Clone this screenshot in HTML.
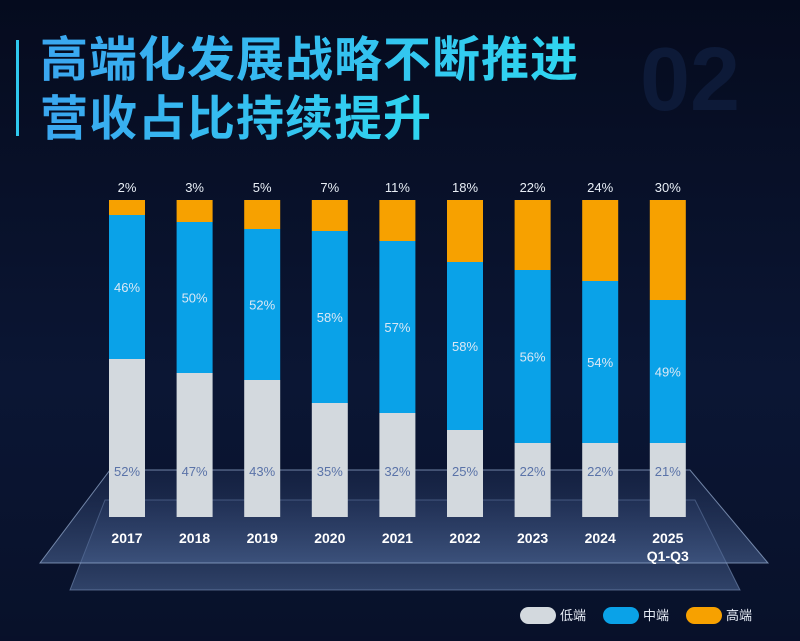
<!DOCTYPE html>
<html><head><meta charset="utf-8"><style>
body{margin:0;width:800px;height:636px;overflow:hidden;background:#08102a;font-family:"Liberation Sans","Noto Sans CJK SC",sans-serif;}
</style></head><body>
<svg width="800" height="636" viewBox="0 0 800 636" xmlns="http://www.w3.org/2000/svg">
<defs>
<linearGradient id="bg" x1="0" y1="0" x2="0" y2="1"><stop offset="0" stop-color="#050b1e"/><stop offset="0.6" stop-color="#0b1634"/><stop offset="1" stop-color="#08112a"/></linearGradient>
<linearGradient id="tg" x1="0" y1="0" x2="1" y2="0"><stop offset="0" stop-color="#3aa6f0"/><stop offset="1" stop-color="#2fd6f0"/></linearGradient>
<linearGradient id="pl" x1="0" y1="0" x2="0" y2="1"><stop offset="0" stop-color="#2a3c66" stop-opacity="0.3"/><stop offset="1" stop-color="#4a6391" stop-opacity="0.6"/></linearGradient>
</defs>
<rect width="800" height="636" fill="url(#bg)"/>
<text x="640" y="110" font-size="90" fill="#0d1a38" font-family="Liberation Sans" font-weight="bold">02</text>
<rect x="16" y="40" width="3" height="96" fill="#2fc8ee"/>
<g font-size="48" font-weight="bold" fill="url(#tg)" letter-spacing="1">
<text x="40" y="76">高端化发展战略不断推进</text>
<text x="40" y="135">营收占比持续提升</text>
</g>
<polygon points="105,500 695,500 740,590 70,590" fill="url(#pl)" stroke="#7c93bb" stroke-opacity="0.6"/>
<polygon points="110,470 690,470 768,563 40,563" fill="url(#pl)" stroke="#9ab0d4" stroke-opacity="0.7"/>
<g id="bars" font-size="13"></g>
<g font-size="13" fill="#e6ecf5">
<rect x="520" y="607" width="36" height="17" rx="8.5" fill="#d3d9de"/><text x="560" y="620">低端</text>
<rect x="603" y="607" width="36" height="17" rx="8.5" fill="#0aa2e8"/><text x="643" y="620">中端</text>
<rect x="686" y="607" width="36" height="17" rx="8.5" fill="#f7a100"/><text x="726" y="620">高端</text>
</g>
</svg>
<script>
var d=[["2017",2,46,52,215,359],["2018",3,50,47,222,373],["2019",5,52,43,229,380],["2020",7,58,35,231,403],["2021",11,57,32,241,413],["2022",18,58,25,262,430],["2023",22,56,22,270,443],["2024",24,54,22,281,443],["2025",30,49,21,300,443]];
var g=document.getElementById('bars'),s='',ty=200,yb=517;
d.forEach(function(r,i){var cx=127+i*67.6,x=cx-18,a=r[4],b=r[5];
s+='<rect x="'+x+'" y="'+ty+'" width="36" height="'+(a-ty)+'" fill="#f7a100"/>';
s+='<rect x="'+x+'" y="'+a+'" width="36" height="'+(b-a)+'" fill="#0aa2e8"/>';
s+='<rect x="'+x+'" y="'+b+'" width="36" height="'+(yb-b)+'" fill="#d3d9de"/>';
s+='<text x="'+cx+'" y="192" text-anchor="middle" fill="#e8eef6">'+r[1]+'%</text>';
s+='<text x="'+cx+'" y="'+((a+b)/2+5)+'" text-anchor="middle" fill="#dbe8f5">'+r[2]+'%</text>';
s+='<text x="'+cx+'" y="476" text-anchor="middle" fill="#5a73a8">'+r[3]+'%</text>';
s+='<text x="'+cx+'" y="543" text-anchor="middle" fill="#fff" font-weight="bold" font-size="14">'+r[0]+'</text>';
if(i==8)s+='<text x="'+cx+'" y="561" text-anchor="middle" fill="#fff" font-weight="bold" font-size="14">Q1-Q3</text>';
});
g.innerHTML=s;
</script>
</body></html>
